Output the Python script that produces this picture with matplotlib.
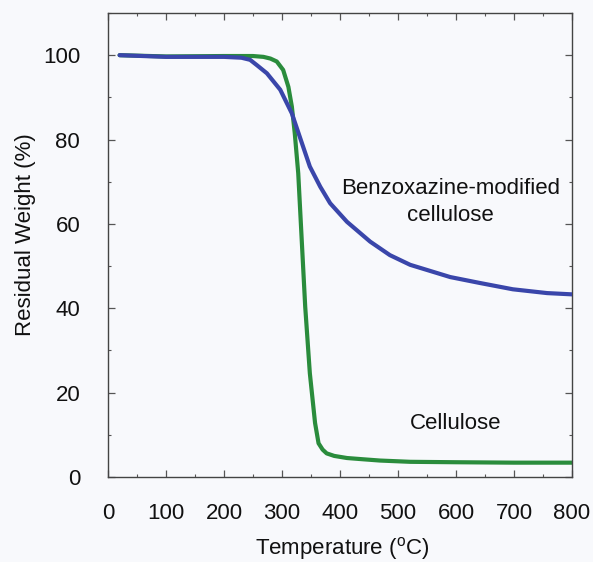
import matplotlib
matplotlib.use("Agg")
import matplotlib.pyplot as plt
from matplotlib.ticker import MultipleLocator

# Data
cell_T = [20, 100, 200, 250, 268, 280, 291, 302, 311, 317, 322, 328, 334, 340, 348, 357, 363, 370, 377, 390, 412, 440, 469, 521, 600, 700, 800]
cell_W = [100, 99.7, 99.8, 99.8, 99.6, 99.2, 98.5, 96.5, 92.5, 87.8, 81.5, 72.0, 56.2, 40.4, 24.6, 12.8, 8.0, 6.5, 5.6, 5.0, 4.5, 4.2, 3.9, 3.6, 3.5, 3.4, 3.4]

bz_T = [20, 100, 200, 230, 245, 257, 274, 297, 317, 331, 348, 366, 383, 412, 452, 486, 521, 590, 641, 698, 757, 800]
bz_W = [100, 99.6, 99.6, 99.4, 98.9, 97.6, 95.7, 91.8, 86.2, 80.5, 73.6, 68.8, 64.9, 60.5, 55.8, 52.6, 50.3, 47.4, 46.0, 44.5, 43.6, 43.3]

x_ticks = [0, 100, 200, 300, 400, 500, 600, 700, 800]
y_ticks = [0, 20, 40, 60, 80, 100]

plt.rcParams['font.family'] = ['Liberation Sans', 'DejaVu Sans']
plt.rcParams['mathtext.default'] = 'regular'

bg = '#f8f9fc'
fig = plt.figure(figsize=(5.93, 5.62), dpi=100, facecolor=bg)
ax = fig.add_axes([108/593, 1 - 477/562, 464/593, 464/562])
ax.set_facecolor(bg)

ax.plot(bz_T, bz_W, color='#3a46aa', lw=3, solid_joinstyle='round', solid_capstyle='round', zorder=3)
ax.plot(cell_T, cell_W, color='#2a8c3c', lw=3, solid_joinstyle='round', solid_capstyle='round', zorder=2)

ax.set_xlim(0, 800)
ax.set_ylim(0, 110)
ax.set_xticks(x_ticks)
ax.set_yticks(y_ticks)
ax.xaxis.set_minor_locator(MultipleLocator(50))
ax.yaxis.set_minor_locator(MultipleLocator(10))
ax.tick_params(which='both', direction='in', top=True, right=True, colors='#555555', labelcolor='#111111')
ax.tick_params(which='major', length=5, width=0.9, labelsize=16)
ax.tick_params(axis='x', which='major', pad=19)
ax.tick_params(axis='y', which='major', pad=20)
ax.tick_params(which='minor', length=2.5, width=0.8)
for s in ax.spines.values():
    s.set_color('#444444')
    s.set_linewidth(1.0)

ax.set_xlabel(r'Temperature ($^{o}$C)', fontsize=16, color='#111111')
ax.xaxis.set_label_coords((342-108)/464, (477-549)/464)
ax.xaxis.label.set_va('center')
ax.set_ylabel('Residual Weight (%)', fontsize=16, color='#111111')
ax.yaxis.set_label_coords((26-108)/464, (477-235)/464)
ax.yaxis.label.set_va('center')

ax.text(590, 68.3, 'Benzoxazine-modified', fontsize=16, ha='center', va='center', color='#111111')
ax.text(590, 62.1, 'cellulose', fontsize=16, ha='center', va='center', color='#111111')
ax.text(600, 12.6, 'Cellulose', fontsize=16, ha='center', va='center', color='#111111')

fig.savefig('out.png', dpi=100, facecolor=bg)
